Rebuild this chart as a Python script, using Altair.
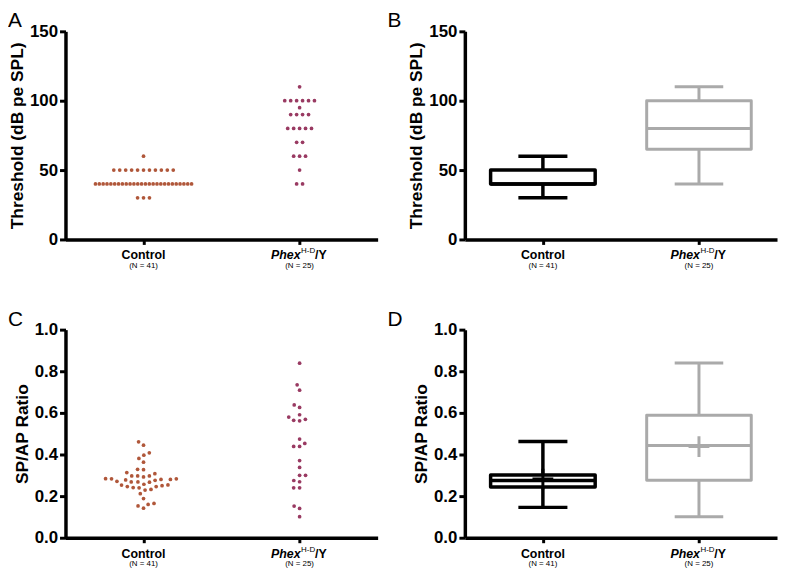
import math
from collections import defaultdict
import altair as alt
import pandas as pd

# ---------------- data ----------------
groups = ["Control", "Phex"]
n_counts = [41, 25]
phex_label_parts = ["Phex", "H-D", "/Y"]

thr_control = [60,
               50, 50, 50, 50, 50, 50, 50, 50, 50, 50, 50,
               40, 40, 40, 40, 40, 40, 40, 40, 40, 40, 40, 40, 40,
               40, 40, 40, 40, 40, 40, 40, 40, 40, 40, 40, 40, 40,
               30, 30, 30]
thr_phex = [110, 100, 100, 100, 100, 100, 100, 95, 90, 90, 90, 90,
            80, 80, 80, 80, 80, 70, 70, 60, 60, 60, 50, 40, 40]

ratio_control = [0.461, 0.445, 0.408, 0.397, 0.381, 0.363, 0.329, 0.327, 0.313, 0.308,
                 0.297, 0.297, 0.297, 0.292, 0.284, 0.283, 0.283, 0.280, 0.280, 0.278,
                 0.276, 0.271, 0.268, 0.268, 0.267, 0.257, 0.254, 0.253, 0.250, 0.246,
                 0.246, 0.241, 0.240, 0.232, 0.229, 0.212, 0.188, 0.165, 0.160, 0.153,
                 0.142]
ratio_phex = [0.839, 0.735, 0.709, 0.638, 0.626, 0.591, 0.580, 0.569, 0.564, 0.562,
              0.474, 0.453, 0.439, 0.439, 0.371, 0.338, 0.300, 0.300, 0.275, 0.269,
              0.240, 0.240, 0.152, 0.141, 0.101]

# box-plot summaries (Control, Phex)
thr_lo = [30, 40]
thr_q1 = [40, 65]
thr_med = [40, 80]
thr_q3 = [50, 100]
thr_hi = [60, 110]

ratio_lo = [0.146, 0.101]
ratio_q1 = [0.244, 0.276]
ratio_med = [0.275, 0.443]
ratio_q3 = [0.301, 0.589]
ratio_hi = [0.463, 0.840]
ratio_mean = [0.282, 0.438]

# ---------------- styling / layout ----------------
F = "Liberation Sans"
W, H = 315, 210
PX_PER_X = W / 2.0          # x domain [-0.5, 1.5]
dot_colors = {"Control": "#b0573a", "Phex": "#993a62"}
box_colors = {"Control": "#000000", "Phex": "#aaaaaa"}
box_widths = {"Control": 3.5, "Phex": 3.0}
BOX_HALF = 0.335
CAP_HALF = 0.146

X_AXIS = alt.Axis(values=[0, 1], labels=False, title=None, grid=False,
                  tickSize=5, tickWidth=3, domainWidth=3.5,
                  domainColor="black", tickColor="black")
X_SCALE = alt.Scale(domain=[-0.5, 1.5], nice=False, zero=False)


def xenc(field):
    return alt.X(field, type="quantitative", scale=X_SCALE, axis=X_AXIS)


def yenc(field, domain, vals, fmt, title):
    return alt.Y(field, type="quantitative", title=title,
                 scale=alt.Scale(domain=domain, nice=False, zero=True),
                 axis=alt.Axis(values=vals, format=fmt, grid=False,
                               domainWidth=3.5, domainColor="black",
                               tickColor="black", tickWidth=3, tickSize=6,
                               labelFontSize=17, labelFontWeight="bold", labelFont=F,
                               labelColor="black", labelPadding=2,
                               titleFontSize=17.5, titleFont=F, titleFontWeight="bold",
                               titleColor="black", titlePadding=3))


def row_offsets(values):
    idx_by_v = defaultdict(list)
    for i, v in enumerate(values):
        idx_by_v[v].append(i)
    offs = [0.0] * len(values)
    for v, idxs in idx_by_v.items():
        k = len(idxs)
        sp = 6.0 if k < 2 else min(6.0, 97.0 / (k - 1))
        for j, i in enumerate(idxs):
            offs[i] = (j - (k - 1) / 2.0) * sp
    return offs


def beeswarm(values, px_per_unit, d=6.0):
    order = sorted(range(len(values)), key=lambda i: values[i])
    placed = []
    offs = [0.0] * len(values)
    for i in order:
        y = values[i] * px_per_unit
        cands = [0.0]
        for py, px in placed:
            dy = abs(y - py)
            if dy < d:
                dx = math.sqrt(d * d - dy * dy)
                cands += [px + dx, px - dx]
        cands.sort(key=lambda c: (abs(c), c))
        for c in cands:
            if all((c - px) ** 2 + (y - py) ** 2 >= d * d - 1e-6 for py, px in placed):
                offs[i] = c
                placed.append((y, c))
                break
    return offs


def dots_df(ctrl, phex, offsets_fn):
    rows = []
    for gi, (g, vals) in enumerate(zip(groups, [ctrl, phex])):
        offs = offsets_fn(vals)
        for v, o in zip(vals, offs):
            rows.append({"g": g, "v": v, "xs": gi + o / PX_PER_X, "col": dot_colors[g]})
    return pd.DataFrame(rows)


def label_layers():
    ctrl = alt.Chart(pd.DataFrame({"xpos": [0], "t": [groups[0]]})).mark_text(
        font=F, fontSize=12.5, fontWeight="bold", baseline="middle", color="black"
    ).encode(x=xenc("xpos"), y=alt.value(H + 16), text="t:N")
    p1 = alt.Chart(pd.DataFrame({"xpos": [1], "t": [phex_label_parts[0]]})).mark_text(
        font=F, fontSize=12.5, fontWeight="bold", fontStyle="italic", align="right",
        dx=1, baseline="middle", color="black"
    ).encode(x=xenc("xpos"), y=alt.value(H + 16), text="t:N")
    p2 = alt.Chart(pd.DataFrame({"xpos": [1], "t": [phex_label_parts[1]]})).mark_text(
        font=F, fontSize=8, align="left", dx=1.5, baseline="middle", color="black"
    ).encode(x=xenc("xpos"), y=alt.value(H + 12), text="t:N")
    p3 = alt.Chart(pd.DataFrame({"xpos": [1], "t": [phex_label_parts[2]]})).mark_text(
        font=F, fontSize=12.5, fontWeight="bold", align="left", dx=15.5,
        baseline="middle", color="black"
    ).encode(x=xenc("xpos"), y=alt.value(H + 16), text="t:N")
    nn = alt.Chart(pd.DataFrame({"xpos": [0, 1],
                                 "t": ["(N = %d)" % n for n in n_counts]})).mark_text(
        font=F, fontSize=8, baseline="middle", color="black"
    ).encode(x=xenc("xpos"), y=alt.value(H + 27), text="t:N")
    return [ctrl, p1, p2, p3, nn]


def panel_title(letter, dx):
    return alt.TitleParams(text=letter, anchor="start", frame="group", dx=dx,
                           fontSize=21, fontWeight="normal", font=F, color="black",
                           offset=-9)


def dot_panel(df, ydom, yvals, fmt, ytitle, letter):
    pts = alt.Chart(df).mark_circle(size=14, opacity=1).encode(
        x=xenc("xs"), y=yenc("v", ydom, yvals, fmt, ytitle),
        color=alt.Color("col:N", scale=None))
    return alt.layer(pts, *label_layers()).properties(
        width=W, height=H, title=panel_title(letter, -58))


def box_panel(lo, q1, med, q3, hi, mean, ydom, yvals, fmt, ytitle, letter):
    df = pd.DataFrame({"g": groups, "xpos": [0, 1], "lo": lo, "q1": q1, "med": med,
                       "q3": q3, "hi": hi})
    df["col"] = [box_colors[g] for g in groups]
    df["sw"] = [box_widths[g] for g in groups]
    base = alt.Chart(df).transform_calculate(
        bl="datum.xpos - %f" % BOX_HALF, br="datum.xpos + %f" % BOX_HALF,
        cl="datum.xpos - %f" % CAP_HALF, cr="datum.xpos + %f" % CAP_HALF)
    col = alt.Color("col:N", scale=None)
    sw = alt.StrokeWidth("sw:Q", scale=None)

    def Y(f):
        return yenc(f, ydom, yvals, fmt, ytitle)

    layers = [
        base.mark_rule().encode(x=xenc("xpos"), y=Y("lo"), y2="q1", color=col, strokeWidth=sw),
        base.mark_rule().encode(x=xenc("xpos"), y=Y("q3"), y2="hi", color=col, strokeWidth=sw),
        base.mark_rule(strokeCap="square").encode(x=xenc("cl"), x2="cr", y=Y("lo"), color=col, strokeWidth=sw),
        base.mark_rule(strokeCap="square").encode(x=xenc("cl"), x2="cr", y=Y("hi"), color=col, strokeWidth=sw),
        base.mark_rect(fillOpacity=0, strokeJoin="round").encode(
            x=xenc("bl"), x2="br", y=Y("q1"), y2="q3",
            stroke=alt.Stroke("col:N", scale=None), strokeWidth=sw),
        base.mark_rule().encode(x=xenc("bl"), x2="br", y=Y("med"), color=col, strokeWidth=sw),
    ]
    if mean is not None:
        mdf = pd.DataFrame({"g": groups, "xpos": [0, 1], "mean": mean})
        mdf["col"] = [box_colors[g] for g in groups]
        layers.append(alt.Chart(mdf).mark_point(
            shape="M -1 0 L 1 0 M 0 -1 L 0 1", size=441, filled=False,
            strokeWidth=3, opacity=1).encode(
            x=xenc("xpos"), y=Y("mean"), color=col))
    return alt.layer(*layers, *label_layers()).properties(
        width=W, height=H, title=panel_title(letter, -78))


thr_title = "Threshold (dB pe SPL)"
rat_title = "SP/AP Ratio"
thr_vals = [0, 50, 100, 150]
rat_vals = [0, 0.2, 0.4, 0.6, 0.8, 1.0]

A = dot_panel(dots_df(thr_control, thr_phex, row_offsets), [0, 150], thr_vals, "d",
              thr_title, "A")
C = dot_panel(dots_df(ratio_control, ratio_phex,
                      lambda v: beeswarm(v, H / 1.0)), [0, 1], rat_vals, ".1f",
              rat_title, "C")
B = box_panel(thr_lo, thr_q1, thr_med, thr_q3, thr_hi, None, [0, 150], thr_vals, "d",
              thr_title, "B")
D = box_panel(ratio_lo, ratio_q1, ratio_med, ratio_q3, ratio_hi, ratio_mean, [0, 1],
              rat_vals, ".1f", rat_title, "D")

chart = alt.concat(A, B, C, D, columns=2, spacing={"row": 91, "column": 88},
                   bounds="flush").properties(
    padding={"left": 0, "top": 0, "right": 2, "bottom": 0}
).configure(background="white").configure_view(stroke=None)

chart.save("out.html", embed_options={"renderer": "svg", "actions": False})
